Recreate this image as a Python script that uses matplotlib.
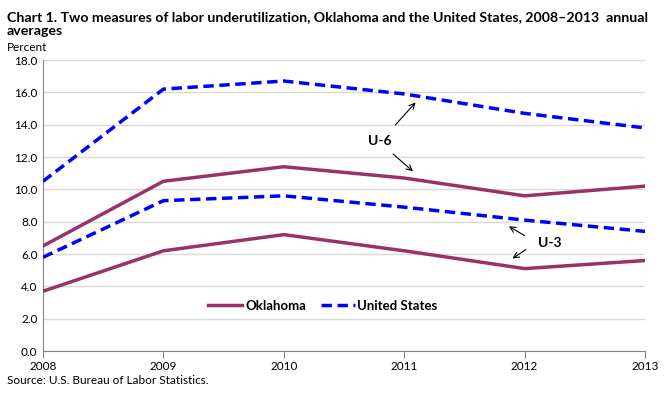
import matplotlib
matplotlib.use("Agg")
import matplotlib.pyplot as plt

plt.rcParams['font.family'] = ['Lato', 'DejaVu Sans']

years = [2008, 2009, 2010, 2011, 2012, 2013]
ok_u6 = [6.5, 10.5, 11.4, 10.7, 9.6, 10.2]
ok_u3 = [3.7, 6.2, 7.2, 6.2, 5.1, 5.6]
us_u6 = [10.5, 16.2, 16.7, 15.9, 14.7, 13.8]
us_u3 = [5.8, 9.3, 9.6, 8.9, 8.1, 7.4]

maroon = '#993366'
blue = '#0000FF'

fig = plt.figure(figsize=(6.68, 3.94), dpi=100)
ax = fig.add_axes([0.0644, 0.109, 0.9012, 0.7387])

ax.plot(years, ok_u6, color=maroon, lw=2.5, label='Oklahoma', zorder=3)
ax.plot(years, ok_u3, color=maroon, lw=2.5, zorder=3)
ax.plot(years, us_u6, color=blue, lw=2.5, ls=(0, (3, 1.6)), label='United States', zorder=3)
ax.plot(years, us_u3, color=blue, lw=2.5, ls=(0, (3, 1.6)), zorder=3)

ax.set_xlim(2008, 2013)
ax.set_ylim(0, 18)
ax.set_yticks([i * 2.0 for i in range(10)])
ax.set_yticklabels(['%.1f' % (i * 2.0) for i in range(10)], fontsize=8.5)
ax.set_xticks(years)
ax.set_xticklabels([str(y) for y in years], fontsize=8.5)
ax.grid(axis='y', color='#D9D9D9', lw=1)
ax.set_axisbelow(True)
for s in ['top', 'right']:
    ax.spines[s].set_visible(False)
for s in ['left', 'bottom']:
    ax.spines[s].set_color('#868686')
ax.tick_params(axis='y', length=0, pad=4)
ax.tick_params(axis='x', length=5, color='#868686', pad=2)

# annotations
arrow = dict(arrowstyle='->', color='black', lw=0.8)
ax.annotate('', xy=(2011.11, 15.5), xytext=(2010.91, 13.85), arrowprops=arrow)
ax.annotate('', xy=(2011.09, 11.0), xytext=(2010.89, 12.3), arrowprops=arrow)
ax.text(2010.8, 13.0, 'U-6', fontsize=10, fontweight='bold', ha='center', va='center')
ax.annotate('', xy=(2011.85, 7.8), xytext=(2012.02, 7.05), arrowprops=arrow)
ax.annotate('', xy=(2011.88, 5.63), xytext=(2012.03, 6.37), arrowprops=arrow)
ax.text(2012.21, 6.68, 'U-3', fontsize=10, fontweight='bold', ha='center', va='center')

ax.legend(loc='center', bbox_to_anchor=(0.465, 0.155), ncol=2, frameon=False,
          handlelength=2.6, handletextpad=0.2, columnspacing=1.1,
          prop={'weight': 'bold', 'size': 9.5})

fig.text(0.0105, 0.972, 'Chart 1. Two measures of labor underutilization, Oklahoma and the United States, 2008\u20132013  annual\naverages',
         fontsize=10.2, fontweight='bold', ha='left', va='top', linespacing=1.2)
fig.text(0.0105, 0.88, 'Percent', fontsize=8.5, ha='left', va='center')
fig.text(0.0105, 0.035, 'Source: U.S. Bureau of Labor Statistics.', fontsize=8.5, ha='left', va='center')

fig.savefig('out.png', dpi=100)
